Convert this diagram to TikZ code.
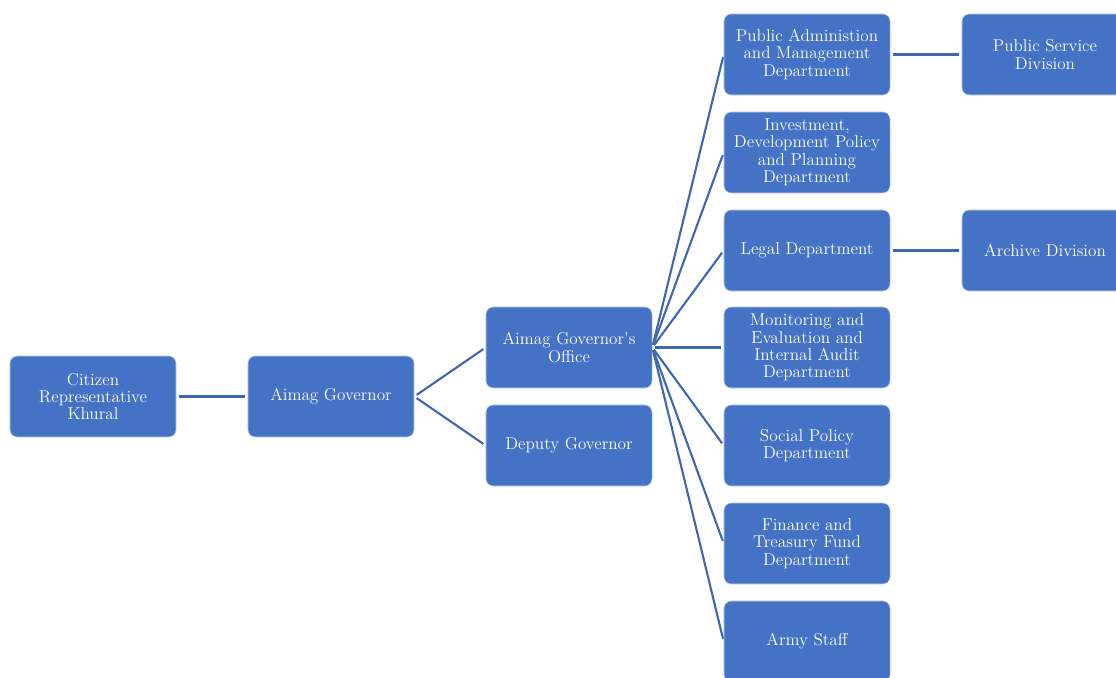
\documentclass[tikz,border=0pt]{standalone}
\usepackage{xcolor}
\definecolor{boxblue}{HTML}{4472C4}
\definecolor{lineblue}{HTML}{3F66B1}

\begin{document}
\begin{tikzpicture}[x=0.025cm, y=-0.025cm,
  unit/.style={draw=white!70!boxblue, line width=0.4pt, fill=boxblue, text=white, rounded corners=0.18cm, minimum width=4.15cm, minimum height=2.025cm, inner sep=0pt, align=center, font=\fontsize{12.2}{12.4}\selectfont},
  link/.style={lineblue, line width=1.5pt, shorten >=2pt, shorten <=2pt}]
\useasboundingbox (0,0) rectangle (1116,677);
\clip (0,0) rectangle (1116,677);

\node[unit] (k) at (93,396.5) {Citizen\\Representative\\Khural};
\node[unit] (g) at (331,396.5) {Aimag Governor};
\node[unit] (o) at (569,347.5) {Aimag Governor\textquotesingle s\\Office};
\node[unit] (dg) at (569,445.5) {Deputy Governor};

\node[unit] (d1) at (807,54.5) {Public Administion\\and Management\\Department};
\node[unit] (d2) at (807,152.5) {Investment,\\Development Policy\\and Planning\\Department};
\node[unit] (d3) at (807,250.5) {Legal Department};
\node[unit] (d4) at (807,347.5) {Monitoring and\\Evaluation and\\Internal Audit\\Department};
\node[unit] (d5) at (807,445.5) {Social Policy\\Department};
\node[unit] (d6) at (807,543.5) {Finance and\\Treasury Fund\\Department};
\node[unit] (d7) at (807,641.5) {Army Staff};

\node[unit] (s1) at (1045,54.5) {Public Service\\Division};
\node[unit] (s2) at (1045,250.5) {Archive Division};

\draw[link] (k) -- (g);
\draw[link] (g.east) -- (o.west);
\draw[link] (g.east) -- (dg.west);
\foreach \i in {1,...,7}
  \draw[link] (o.east) -- (d\i.west);
\draw[link] (d1) -- (s1);
\draw[link] (d3) -- (s2);
\end{tikzpicture}
\end{document}
